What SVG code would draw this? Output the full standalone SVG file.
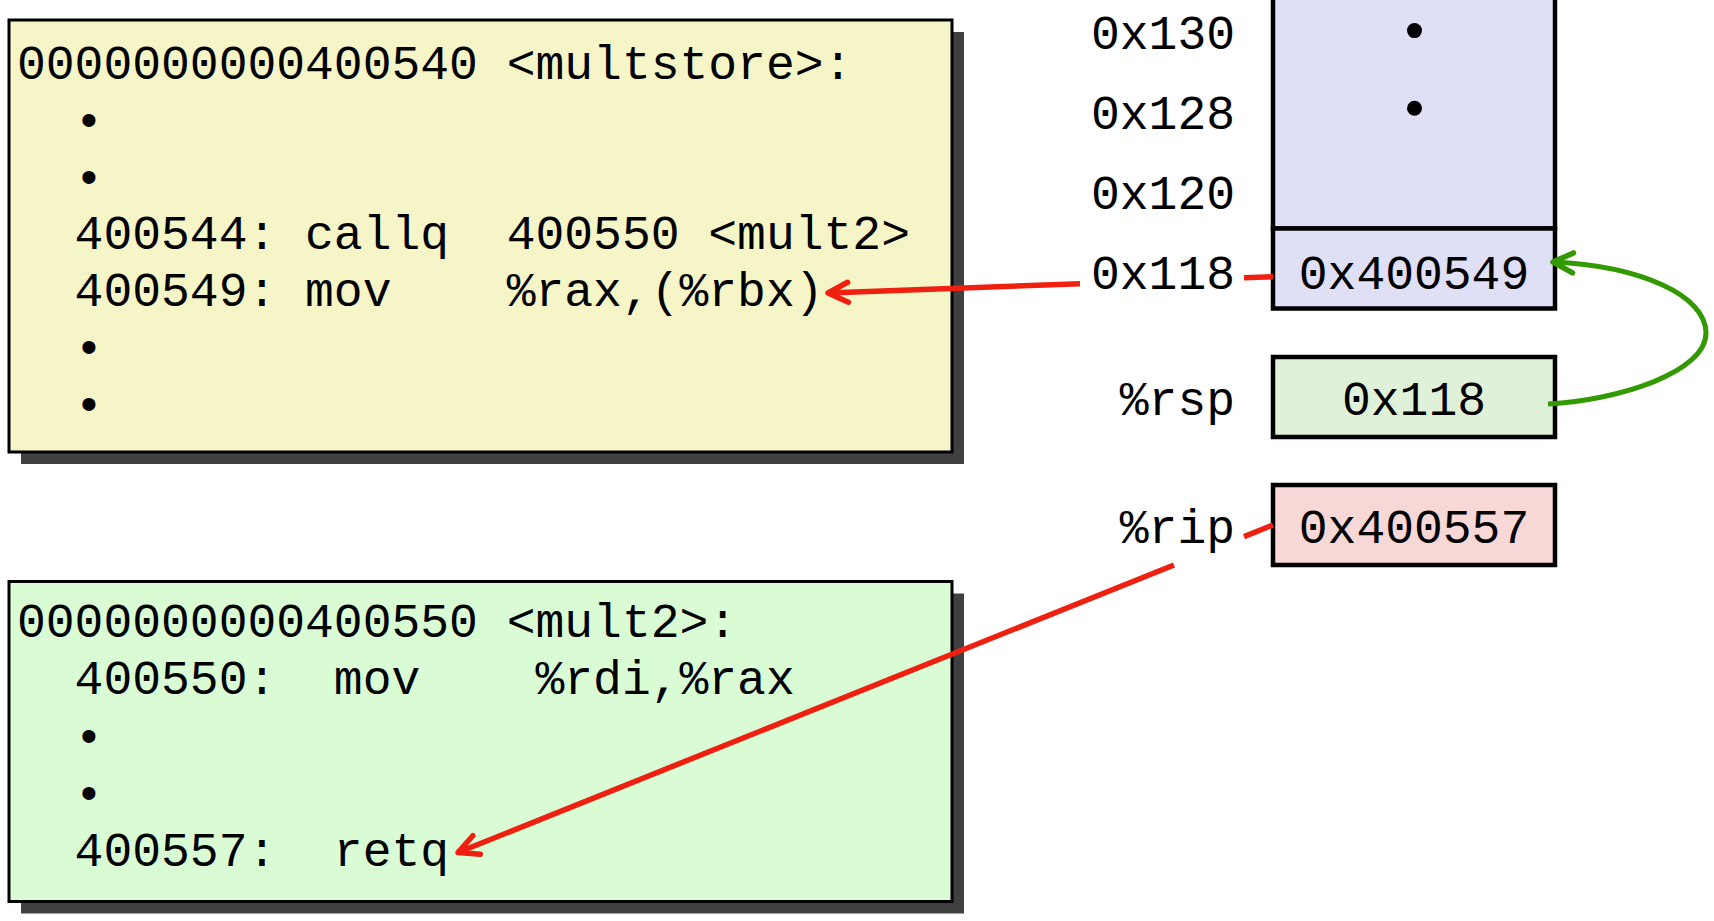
<svg xmlns="http://www.w3.org/2000/svg" width="1714" height="921" viewBox="0 0 1714 921">
<style>
.code{font-family:"Liberation Mono","Courier New",monospace;font-size:48px;fill:#000;white-space:pre}
.lbl{font-family:"Liberation Mono","Courier New",monospace;font-size:48px;fill:#000;text-anchor:end}
.val{font-family:"Liberation Mono","Courier New",monospace;font-size:48px;fill:#000;text-anchor:middle}
.box{stroke:#000;stroke-width:3}
.shadow{fill:#404040}
.cell{stroke:#000;stroke-width:4.5}
.red{fill:none;stroke:#ef2010;stroke-width:5.5}
.green{fill:none;stroke:#339900;stroke-width:5}
</style>
<defs>
<marker id="arrRed" markerUnits="userSpaceOnUse" markerWidth="40" markerHeight="40" refX="0" refY="0" orient="auto" overflow="visible">
<path d="M-20,-10 L0,0 L-20,10" fill="none" stroke="#ef2010" stroke-width="5.5" stroke-linecap="round" stroke-linejoin="round"/>
</marker>
<marker id="arrGreen" markerUnits="userSpaceOnUse" markerWidth="40" markerHeight="40" refX="0" refY="0" orient="auto" overflow="visible">
<path d="M-20,-10 L0,0 L-20,10" fill="none" stroke="#339900" stroke-width="5.5" stroke-linecap="round" stroke-linejoin="round"/>
</marker>
</defs>
<rect width="1714" height="921" fill="#fff"/>

<g id="multstore">
<rect class="shadow" x="21" y="32" width="943" height="432"/>
<rect class="box" x="9" y="20" width="943" height="432" fill="#f5f5c8"/>
<text class="code" xml:space="preserve" x="17" y="79">0000000000400540 &lt;multstore&gt;:</text>
<text class="code" xml:space="preserve" x="17" y="136">  •</text>
<text class="code" xml:space="preserve" x="17" y="192.5">  •</text>
<text class="code" xml:space="preserve" x="17" y="249">  400544: callq  400550 &lt;mult2&gt;</text>
<text class="code" xml:space="preserve" x="17" y="306">  400549: mov    %rax,(%rbx)</text>
<text class="code" xml:space="preserve" x="17" y="363">  •</text>
<text class="code" xml:space="preserve" x="17" y="419.5">  •</text>
</g>

<g id="mult2">
<rect class="shadow" x="21" y="593.5" width="943" height="320"/>
<rect class="box" x="9" y="581.5" width="943" height="320" fill="#d9fcd5"/>
<text class="code" xml:space="preserve" x="17" y="637">0000000000400550 &lt;mult2&gt;:</text>
<text class="code" xml:space="preserve" x="17" y="694">  400550:  mov    %rdi,%rax</text>
<text class="code" xml:space="preserve" x="17" y="751.5">  •</text>
<text class="code" xml:space="preserve" x="17" y="809">  •</text>
<text class="code" xml:space="preserve" x="17" y="866">  400557:  retq</text>
</g>

<g id="stack">
<rect class="cell" x="1273" y="-10" width="282" height="238.5" fill="#dfdff5"/>
<circle cx="1414.5" cy="30.6" r="7.5" fill="#000"/>
<circle cx="1414.5" cy="108.2" r="7.5" fill="#000"/>
<text class="lbl" x="1235" y="48.5">0x130</text>
<text class="lbl" x="1235" y="128.5">0x128</text>
<text class="lbl" x="1235" y="208.5">0x120</text>
</g>

<g id="stack-top">
<rect class="cell" x="1273" y="228.5" width="282" height="80" fill="#dfdff5"/>
<text class="val" x="1414" y="288.5">0x400549</text>
<text class="lbl" x="1235" y="288.5">0x118</text>
</g>

<g id="rsp">
<rect class="cell" x="1273" y="357" width="282" height="80" fill="#e0f1d9"/>
<text class="val" x="1414" y="415">0x118</text>
<text class="lbl" x="1235" y="415">%rsp</text>
</g>

<g id="rip">
<rect class="cell" x="1273" y="485" width="282" height="80" fill="#f8d7d7"/>
<text class="val" x="1414" y="542.5">0x400557</text>
<text class="lbl" x="1235" y="542.5">%rip</text>
</g>

<g id="connectors">
<path class="red" d="M1273,276.6 L1244,277.7 M1080,283.7 L828,293" marker-end="url(#arrRed)"/>
<path class="red" d="M1273,525 L1244,536.6 M1174,565 L458,852.5" marker-end="url(#arrRed)"/>
<path class="green" d="M1548,404 C1620,400 1706,372 1706,333 C1706,295 1640,266 1553,262" marker-end="url(#arrGreen)"/>
</g>
</svg>
